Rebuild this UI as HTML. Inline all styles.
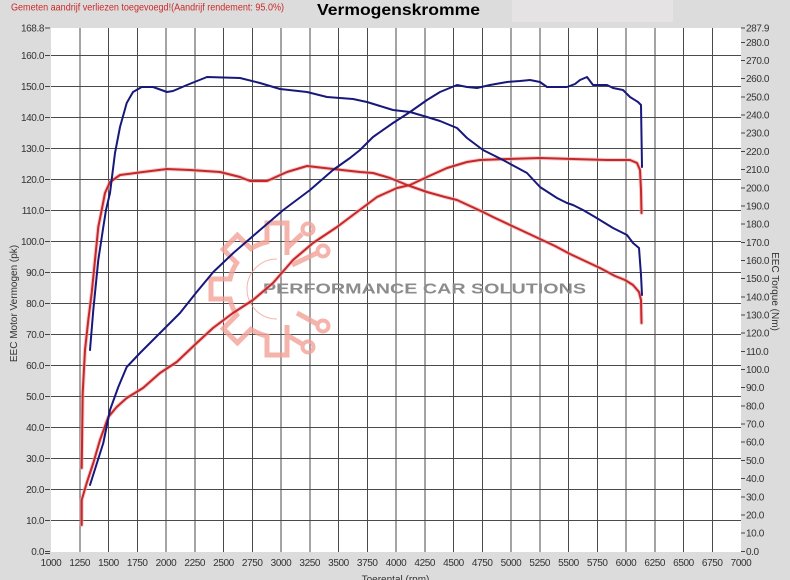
<!DOCTYPE html>
<html><head><meta charset="utf-8"><style>
html,body{margin:0;padding:0;background:#dcdcdc;}
svg{display:block;}
text{font-family:"Liberation Sans",Arial,sans-serif;}
</style></head><body>
<svg width="790" height="580" viewBox="0 0 790 580" xmlns="http://www.w3.org/2000/svg">
<rect x="0" y="0" width="790" height="580" fill="#dcdcdc"/>
<rect x="512" y="0" width="161" height="22" fill="#e5e3e3"/>
<text x="11" y="10.5" font-size="10" fill="#cc2a2a" textLength="273" lengthAdjust="spacingAndGlyphs">Gemeten aandrijf verliezen toegevoegd!(Aandrijf rendement: 95.0%)</text>
<text x="317" y="15" font-size="16" font-weight="bold" fill="#000" textLength="163" lengthAdjust="spacingAndGlyphs">Vermogenskromme</text>

<rect x="51" y="28" width="690" height="524" fill="#ffffff"/>
<g stroke="#4a4a4a" stroke-width="1" shape-rendering="crispEdges">
<path d="M79.75 28V552M108.5 28V552M137.25 28V552M166 28V552M194.75 28V552M223.5 28V552M252.25 28V552M281 28V552M309.75 28V552M338.5 28V552M367.25 28V552M396 28V552M424.75 28V552M453.5 28V552M482.25 28V552M511 28V552M539.75 28V552M568.5 28V552M597.25 28V552M626 28V552M654.75 28V552M683.5 28V552M712.25 28V552"/>
<path d="M51 520.3H741M51 489.3H741M51 458.3H741M51 427.3H741M51 396.3H741M51 365.3H741M51 334.3H741M51 303.3H741M51 272.3H741M51 241.3H741M51 210.3H741M51 179.3H741M51 148.3H741M51 117.3H741M51 86.3H741M51 55.3H741"/>
</g>

<!-- watermark -->
<g fill="none" stroke="#f2a197" stroke-width="5" stroke-linejoin="miter" opacity="0.8">
<path d="M287,255 L287,223 L267,223 L267,242 A48,48 0 0 0 250.9,248.7 L237.4,235.2 L223.2,249.4 L236.7,262.9 A48,48 0 0 0 230,279 L211,279 L211,299 L230,299 A48,48 0 0 0 236.7,315.1 L223.2,328.6 L237.4,342.8 L250.9,329.3 A48,48 0 0 0 267,336 L267,355 L287,355 L287,325"/>
<path d="M287,248 L302,234"/>
<path d="M292,265 L317,253"/>
<path d="M297,313 L317,324"/>
<path d="M287,335 L302,344"/>
<circle cx="308" cy="229" r="5.5" stroke-width="4"/>
<circle cx="323" cy="251" r="5.5" stroke-width="4"/>
<circle cx="323" cy="326" r="5.5" stroke-width="4"/>
<circle cx="308" cy="347" r="5.5" stroke-width="4"/>
</g>
<path d="M277,259 A30,30 0 0 0 277,319" fill="none" stroke="#f2a197" stroke-width="1" opacity="0.8"/>
<text x="263" y="293.5" font-size="15" font-weight="bold" fill="#8c8c8c" textLength="323" lengthAdjust="spacingAndGlyphs">PERFORMANCE CAR SOLUTIONS</text>

<!-- curves -->
<g fill="none" stroke-linejoin="round" stroke-linecap="round">
<!-- red halo -->
<g stroke="#f4a8a8" stroke-width="4" opacity="0.6">
<polyline points="81.7,468 82.7,393 85,350 88.3,320 91.7,293 95,260 98.3,227 101.7,210 105,193 110,182 120,175 143,172 167,169 190,170 220,172 240,177 250,181 267,181 287,172 307,166 333,169 360,172 373,173 390,178 407,185 427,192 445,197 457,200 470,206 483,212 493,217 510,225 525,232 540,239 555,246 570,254 585,261 600,268 615,276 625,280 633,285 639,292 641,300 641.5,323"/>
<polyline points="81.7,525 81.7,500 86.7,483 93.3,463 100,440 108.3,417 116.7,407 126.7,398 143,388 160,373 176.7,362 196.7,343 213,328 233,313 253,300 273,283 293,260 313,243 337,227 357,212 377,197 397,188 410,185 427,177 447,168 467,162 480,160 507,159 540,158 573,159 607,160 630,160 637,163 640,170 641,190 641.5,213"/>
</g>
<g stroke="#c4282a" stroke-width="2">
<polyline points="81.7,468 82.7,393 85,350 88.3,320 91.7,293 95,260 98.3,227 101.7,210 105,193 110,182 120,175 143,172 167,169 190,170 220,172 240,177 250,181 267,181 287,172 307,166 333,169 360,172 373,173 390,178 407,185 427,192 445,197 457,200 470,206 483,212 493,217 510,225 525,232 540,239 555,246 570,254 585,261 600,268 615,276 625,280 633,285 639,292 641,300 641.5,323"/>
<polyline points="81.7,525 81.7,500 86.7,483 93.3,463 100,440 108.3,417 116.7,407 126.7,398 143,388 160,373 176.7,362 196.7,343 213,328 233,313 253,300 273,283 293,260 313,243 337,227 357,212 377,197 397,188 410,185 427,177 447,168 467,162 480,160 507,159 540,158 573,159 607,160 630,160 637,163 640,170 641,190 641.5,213"/>
</g>
<g stroke="#18187c" stroke-width="2">
<polyline points="90,350 93.3,310 98.3,260 103.3,227 106,210 110,193 115,153 120,127 126.7,103 133,92 141.7,87 153,87 167,92 173,91 187,85 207,77 240,78 260,83 280,89 307,92 327,97 353,99 367,102 380,106 393,110 410,112 427,117 440,121 457,128 467,138 483,150 503,160 527,173 540,187 557,198 567,203 573,205 583,210 595,217 613,228 627,235 633,243 639,248 641,275 642,295"/>
<polyline points="90,485 103.3,443 110,410 118.3,387 126.7,367 140,353 160,333 170,323 180,313 196.7,292 213.3,272 233.3,253 260,230 283.3,210 310,190 333,170 350,158 360,150 373,137 393,123 410,112 427,100 440,92 457,85 467,87 477,88 490,85 507,82 520,81 530,80 540,82 547,87 557,87 567,87 575,84 580,80 587,77 593,85 607,85 613,88 623,90 630,97 638,102 641,105 642,167"/>
</g>
</g>

<!-- left axis -->
<g font-size="10" fill="#333" text-anchor="end" letter-spacing="-0.4">
<text x="44" y="31.5">168.8</text>
<text x="44" y="58.8">160.0</text>
<text x="44" y="89.8">150.0</text>
<text x="44" y="120.8">140.0</text>
<text x="44" y="151.8">130.0</text>
<text x="44" y="182.8">120.0</text>
<text x="44" y="213.8">110.0</text>
<text x="44" y="244.8">100.0</text>
<text x="44" y="275.8">90.0</text>
<text x="44" y="306.8">80.0</text>
<text x="44" y="337.8">70.0</text>
<text x="44" y="368.8">60.0</text>
<text x="44" y="399.8">50.0</text>
<text x="44" y="430.8">40.0</text>
<text x="44" y="461.8">30.0</text>
<text x="44" y="492.8">20.0</text>
<text x="44" y="523.8">10.0</text>
<text x="44" y="554.8">0.0</text>
</g>
<g stroke="#444" stroke-width="1" shape-rendering="crispEdges">
<path d="M45 28H50M45 55.3H50M45 86.3H50M45 117.3H50M45 148.3H50M45 179.3H50M45 210.3H50M45 241.3H50M45 272.3H50M45 303.3H50M45 334.3H50M45 365.3H50M45 396.3H50M45 427.3H50M45 458.3H50M45 489.3H50M45 520.3H50M45 551.3H50M45 553.3H50"/>
<path d="M741 28H745M741 42.4H745M741 60.5H745M741 78.7H745M741 96.9H745M741 115.1H745M741 133.2H745M741 151.4H745M741 169.6H745M741 187.8H745M741 205.9H745M741 224.1H745M741 242.3H745M741 260.5H745M741 278.7H745M741 296.8H745M741 315H745M741 333.2H745M741 351.4H745M741 369.5H745M741 387.7H745M741 405.9H745M741 424.1H745M741 442.2H745M741 460.4H745M741 478.6H745M741 496.8H745M741 514.9H745M741 533.1H745M741 551.3H745"/>
</g>
<!-- right axis -->
<g font-size="10" fill="#333" letter-spacing="-0.4">
<text x="746" y="31.5">287.9</text>
<text x="746" y="45.9">280.0</text>
<text x="746" y="64">270.0</text>
<text x="746" y="82.2">260.0</text>
<text x="746" y="100.4">250.0</text>
<text x="746" y="118.6">240.0</text>
<text x="746" y="136.7">230.0</text>
<text x="746" y="154.9">220.0</text>
<text x="746" y="173.1">210.0</text>
<text x="746" y="191.3">200.0</text>
<text x="746" y="209.4">190.0</text>
<text x="746" y="227.6">180.0</text>
<text x="746" y="245.8">170.0</text>
<text x="746" y="264">160.0</text>
<text x="746" y="282.2">150.0</text>
<text x="746" y="300.3">140.0</text>
<text x="746" y="318.5">130.0</text>
<text x="746" y="336.7">120.0</text>
<text x="746" y="354.9">110.0</text>
<text x="746" y="373">100.0</text>
<text x="746" y="391.2">90.0</text>
<text x="746" y="409.4">80.0</text>
<text x="746" y="427.6">70.0</text>
<text x="746" y="445.7">60.0</text>
<text x="746" y="463.9">50.0</text>
<text x="746" y="482.1">40.0</text>
<text x="746" y="500.3">30.0</text>
<text x="746" y="518.4">20.0</text>
<text x="746" y="536.6">10.0</text>
<text x="746" y="554.8">0.0</text>
</g>
<!-- bottom axis -->
<g font-size="10" fill="#333" text-anchor="middle" letter-spacing="-0.4">
<text x="51" y="566">1000</text>
<text x="79.75" y="566">1250</text>
<text x="108.5" y="566">1500</text>
<text x="137.25" y="566">1750</text>
<text x="166" y="566">2000</text>
<text x="194.75" y="566">2250</text>
<text x="223.5" y="566">2500</text>
<text x="252.25" y="566">2750</text>
<text x="281" y="566">3000</text>
<text x="309.75" y="566">3250</text>
<text x="338.5" y="566">3500</text>
<text x="367.25" y="566">3750</text>
<text x="396" y="566">4000</text>
<text x="424.75" y="566">4250</text>
<text x="453.5" y="566">4500</text>
<text x="482.25" y="566">4750</text>
<text x="511" y="566">5000</text>
<text x="539.75" y="566">5250</text>
<text x="568.5" y="566">5500</text>
<text x="597.25" y="566">5750</text>
<text x="626" y="566">6000</text>
<text x="654.75" y="566">6250</text>
<text x="683.5" y="566">6500</text>
<text x="712.25" y="566">6750</text>
<text x="741" y="566">7000</text>
</g>
<text x="395.5" y="582.5" font-size="10" fill="#333" text-anchor="middle">Toerental (rpm)</text>
<text transform="translate(17,303.5) rotate(-90)" font-size="10" fill="#333" text-anchor="middle">EEC Motor Vermogen (pk)</text>
<text transform="translate(772,291.5) rotate(90)" font-size="10" fill="#333" text-anchor="middle">EEC Torque (Nm)</text>
</svg>
</body></html>
